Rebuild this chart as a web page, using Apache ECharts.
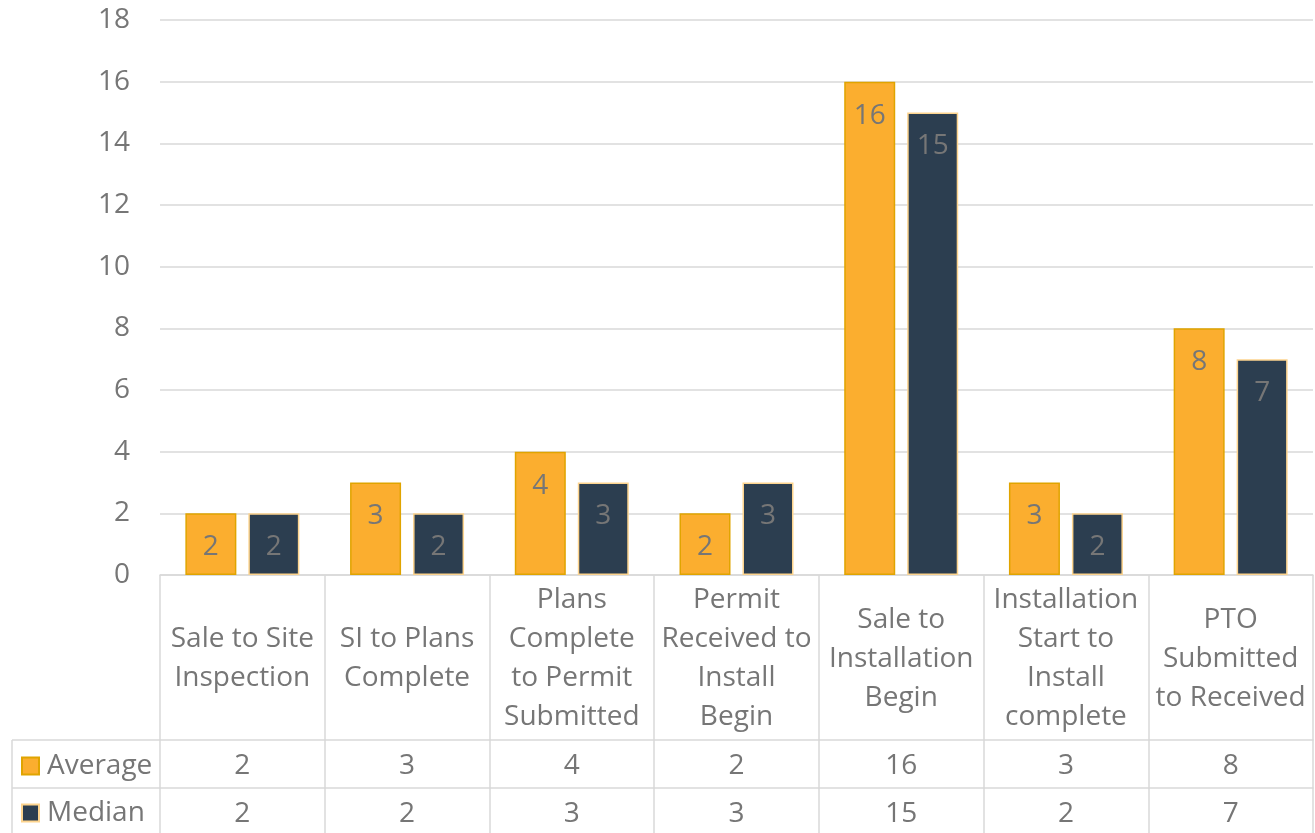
<!DOCTYPE html>
<html><head><meta charset="utf-8">
<script src="https://cdn.jsdelivr.net/npm/echarts@6/dist/echarts.min.js"></script>
<style>html,body{margin:0;padding:0;background:#fff}#c{width:1315px;height:833px}</style>
</head><body><div id="c"></div>
<script>
const categories = [
  'Sale to Site\nInspection',
  'SI to Plans\nComplete',
  'Plans\nComplete\nto Permit\nSubmitted',
  'Permit\nReceived to\nInstall\nBegin',
  'Sale to\nInstallation\nBegin',
  'Installation\nStart to\nInstall\ncomplete',
  'PTO\nSubmitted\nto Received'
];
const averageValues = [2, 3, 4, 2, 16, 3, 8];
const medianValues = [2, 2, 3, 3, 15, 2, 7];
const seriesNames = ['Average', 'Median'];
const yTicks = { min: 0, max: 18, interval: 2 };

const FONT = 'Open Sans';
const GRAY = '#767676';
const LINE = '#d9d9d9';
const FS = 28;

const legendBase = {
  orient: 'horizontal', left: 21, itemWidth: 17, itemHeight: 17, icon: 'rect',
  padding: 0,
  textStyle: { fontFamily: FONT, fontSize: FS, lineHeight: 28, color: GRAY, padding: [0, 0, 0, 3] }
};

const chart = echarts.init(document.getElementById('c'));
const option = {
  animation: false,
  textStyle: { fontFamily: FONT },
  grid: { left: 160, right: 2, top: 20, bottom: 258, containLabel: false },
  legend: [
    Object.assign({}, legendBase, { top: 752, data: [seriesNames[0]] }),
    Object.assign({}, legendBase, { top: 799, data: [seriesNames[1]] })
  ],
  xAxis: [
    {
      type: 'category', data: categories, gridIndex: 0,
      axisLine: { show: true, lineStyle: { color: LINE, width: 1.5 } },
      axisTick: { show: true, length: 258, lineStyle: { color: LINE, width: 1.5 } },
      axisLabel: { interval: 0, margin: 84, verticalAlign: 'middle', fontSize: FS, lineHeight: 39, color: GRAY, fontFamily: FONT }
    },
    {
      type: 'category', data: averageValues.map(String), gridIndex: 0, position: 'bottom', offset: 165,
      axisLine: { show: true, lineStyle: { color: LINE, width: 1.5 } },
      axisTick: { show: false },
      axisLabel: { interval: 0, margin: 26, verticalAlign: 'middle', fontSize: FS, color: GRAY, fontFamily: FONT }
    },
    {
      type: 'category', data: medianValues.map(String), gridIndex: 0, position: 'bottom', offset: 213,
      axisLine: { show: true, lineStyle: { color: LINE, width: 1.5 } },
      axisTick: { show: false },
      axisLabel: { interval: 0, margin: 26, verticalAlign: 'middle', fontSize: FS, color: GRAY, fontFamily: FONT }
    }
  ],
  yAxis: {
    type: 'value', min: yTicks.min, max: yTicks.max, interval: yTicks.interval,
    axisLine: { show: false }, axisTick: { show: false },
    axisLabel: { margin: 30, fontSize: FS, color: GRAY, fontFamily: FONT },
    splitLine: { lineStyle: { color: LINE, width: 1.5 } }
  },
  series: [
    {
      name: seriesNames[0], type: 'bar', data: averageValues, xAxisIndex: 0,
      barWidth: 51, barGap: '23.5%',
      itemStyle: { color: '#FBAE2F', borderColor: '#E0A400', borderWidth: 1.5 },
      label: { show: true, position: 'insideTop', distance: 20, fontSize: FS, color: GRAY, fontFamily: FONT }
    },
    {
      name: seriesNames[1], type: 'bar', data: medianValues, xAxisIndex: 0,
      barWidth: 51,
      itemStyle: { color: '#2C3E50', borderColor: '#FDD48E', borderWidth: 1.5 },
      label: { show: true, position: 'insideTop', distance: 20, fontSize: FS, color: GRAY, fontFamily: FONT }
    }
  ],
  graphic: [
    { type: 'line', shape: { x1: 12, y1: 740, x2: 160, y2: 740 }, style: { stroke: LINE, lineWidth: 1.5 } },
    { type: 'line', shape: { x1: 12, y1: 788, x2: 160, y2: 788 }, style: { stroke: LINE, lineWidth: 1.5 } },
    { type: 'line', shape: { x1: 12, y1: 740, x2: 12, y2: 833 }, style: { stroke: LINE, lineWidth: 1.5 } }
  ]
};
chart.setOption(option);
</script>
</body></html>
